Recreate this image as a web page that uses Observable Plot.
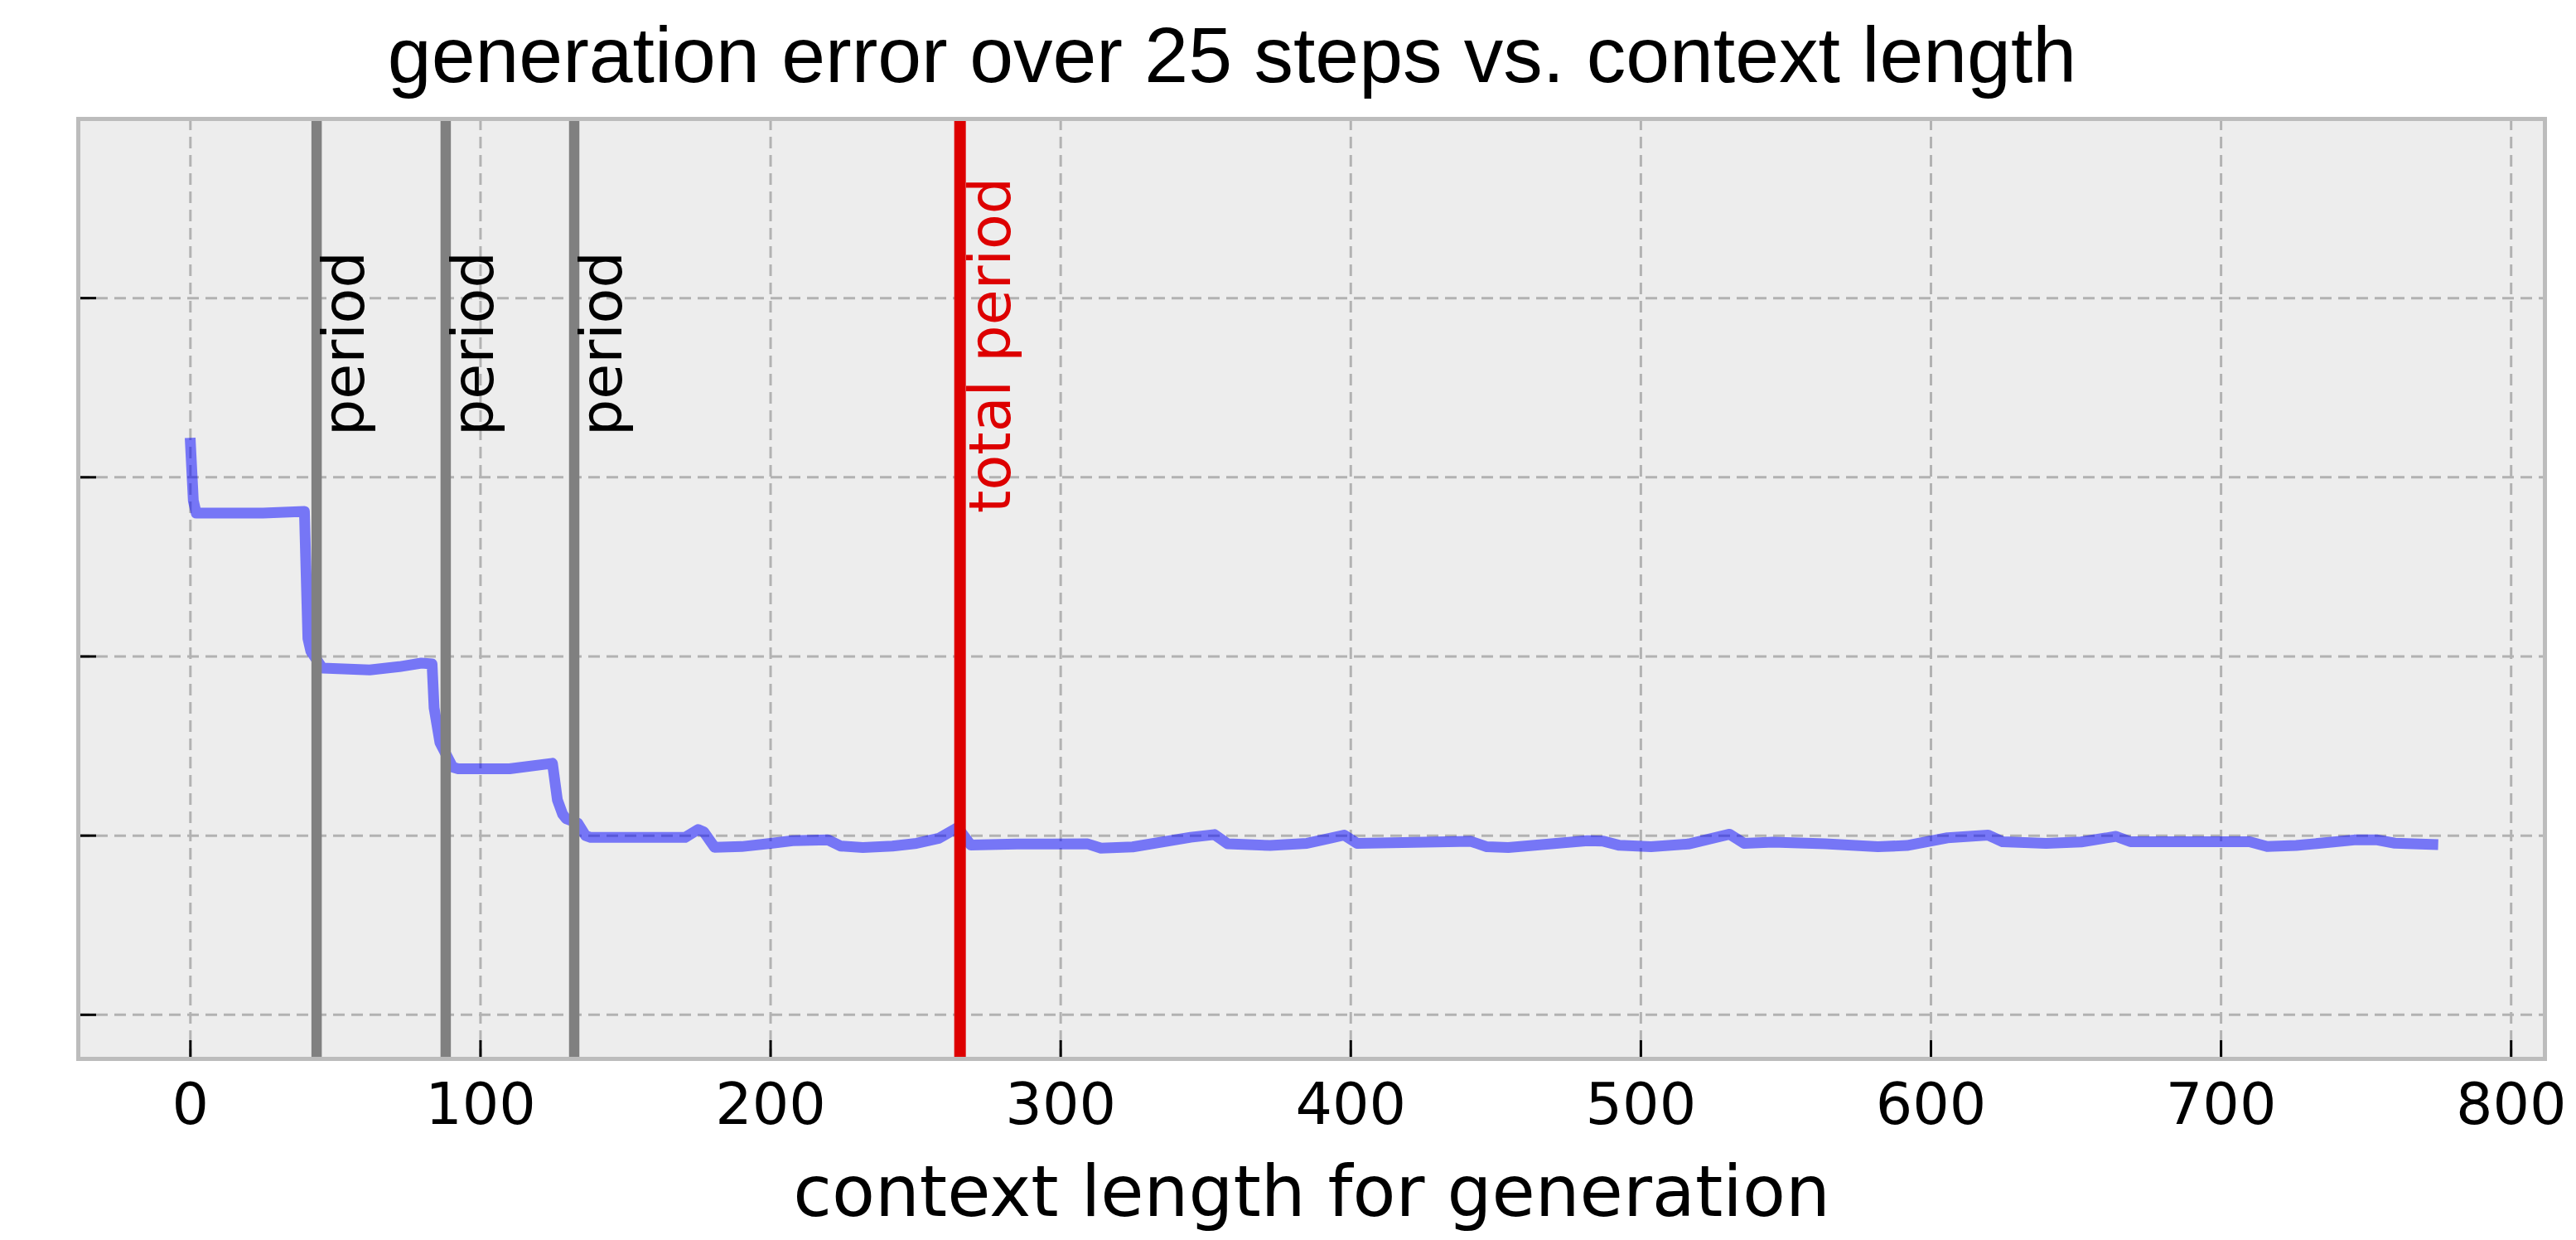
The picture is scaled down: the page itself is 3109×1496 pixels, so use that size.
<!DOCTYPE html>
<html><head><meta charset="utf-8">
<script src="https://cdn.jsdelivr.net/npm/d3@7"></script>
<script src="https://cdn.jsdelivr.net/npm/@observablehq/plot@0.6"></script>
<style>
body{margin:0;background:#fff;}
#title{position:relative;width:3109px;height:120px;}
#title span{position:absolute;left:1487px;top:19px;transform:translateX(-50%);font-family:"Liberation Sans",Arial,sans-serif;font-size:95px;line-height:95px;white-space:nowrap;color:#000;}
#chart svg{display:block;}
</style></head><body>
<div id="title"><span>generation error over 25 steps vs. context length</span></div>
<div id="chart"></div>
<script>
// data
const contextLength = [0, 1, 2, 10, 25, 39.3, 40.5, 41.5, 45.5, 61.8, 72, 79.6, 83.3, 84, 86, 90.4, 92.3, 110, 124.8, 126.5, 128.3, 129.5, 133.5, 136.2, 138, 155, 170.5, 175, 177, 180.7, 190, 200, 207.6, 219.7, 224.1, 231.8, 242, 250.3, 258, 264.5, 269, 284.8, 309.3, 313.9, 324.8, 344.8, 353, 357.6, 372.2, 384.9, 397.7, 402.2, 441.4, 446.9, 454.3, 481.6, 487.1, 492.6, 503.5, 516.3, 530.6, 535.6, 545.6, 563.6, 581.7, 591.7, 605.7, 619.7, 624.7, 639.7, 651.8, 663.8, 668.8, 709.8, 715.9, 725.9, 745.9, 753.9, 759.9, 773];
const generationError = [3.19, 2.87, 2.80, 2.80, 2.80, 2.81, 2.10, 2.03, 1.935, 1.925, 1.943, 1.963, 1.958, 1.713, 1.52, 1.382, 1.373, 1.373, 1.404, 1.20, 1.12, 1.095, 1.07, 1.00, 0.99, 0.99, 0.99, 1.034, 1.02, 0.935, 0.939, 0.957, 0.972, 0.977, 0.942, 0.934, 0.942, 0.957, 0.985, 1.045, 0.948, 0.953, 0.954, 0.930, 0.937, 0.991, 1.006, 0.954, 0.945, 0.957, 1.003, 0.957, 0.968, 0.938, 0.934, 0.972, 0.969, 0.946, 0.938, 0.953, 1.008, 0.957, 0.964, 0.954, 0.938, 0.945, 0.988, 1.003, 0.966, 0.957, 0.965, 0.996, 0.966, 0.966, 0.939, 0.945, 0.976, 0.976, 0.958, 0.951];
const periodMarks = [43.5, 88, 132.3];
const totalPeriod = [265.3];
const periodLabel = "period";
const totalLabel = "total period";
const periodLabelY = 3.23;
const totalLabelY = 2.80;
const xTicks = [0, 100, 200, 300, 400, 500, 600, 700, 800];
const yTicks = [0, 1, 2, 3, 4];
const xDomain = [-38.65, 811.65];
const yDomain = [-0.246, 5.0];
const xLabel = "context length for generation";

const series = contextLength.map((x, i) => ({x, y: generationError[i]}));

const W = 3109, H = 1376, mL = 94, mR = 38, mT = 23, mB = 219;
const innerW = W - mL - mR, innerH = H - mT - mB;

const chart = Plot.plot({
  width: W, height: H,
  marginLeft: mL, marginRight: mR, marginTop: mT, marginBottom: mB,
  style: {fontFamily: "DejaVu Sans", background: "#fff", color: "#000"},
  x: {domain: xDomain},
  y: {domain: yDomain, axis: null},
  marks: [
    Plot.frame({fill: "#ededed", stroke: null}),
    Plot.gridX(xTicks, {stroke: "#b2b2b2", strokeOpacity: 1, strokeWidth: 3, strokeDasharray: "14,8"}),
    Plot.gridY(yTicks, {stroke: "#b2b2b2", strokeOpacity: 1, strokeWidth: 3, strokeDasharray: "14,8"}),
    Plot.line(series, {x: "x", y: "y", stroke: "blue", strokeOpacity: 0.5, strokeWidth: 13, strokeLinejoin: "round", strokeLinecap: "square"}),
    Plot.ruleX(periodMarks, {stroke: "#808080", strokeWidth: 12.5}),
    Plot.ruleX(totalPeriod, {stroke: "#dd0000", strokeWidth: 14}),
    Plot.text(periodMarks, {x: d => d, y: () => periodLabelY, text: () => periodLabel, rotate: -90, textAnchor: "start", lineAnchor: "top", fontSize: 70, dx: 7, fill: "#000"}),
    Plot.text(totalPeriod, {x: d => d, y: () => totalLabelY, text: () => totalLabel, rotate: -90, textAnchor: "start", lineAnchor: "top", fontSize: 70, dx: 10.5, fill: "#dd0000"}),
    Plot.ruleX(xTicks, {stroke: "#000", strokeWidth: 3, insetTop: innerH - 22}),
    Plot.ruleY(yTicks, {stroke: "#000", strokeWidth: 3, insetRight: innerW - 22}),
    Plot.frame({stroke: "#bcbcbc", strokeWidth: 5}),
    Plot.axisX(xTicks, {tickSize: 0, tickPadding: 29, fontSize: 70, label: null}),
    Plot.text([xLabel], {frameAnchor: "bottom", dy: 189, lineAnchor: "bottom", fontSize: 85, text: d => d, fill: "#000"})
  ]
});
document.getElementById("chart").appendChild(chart);
</script>
</body></html>
